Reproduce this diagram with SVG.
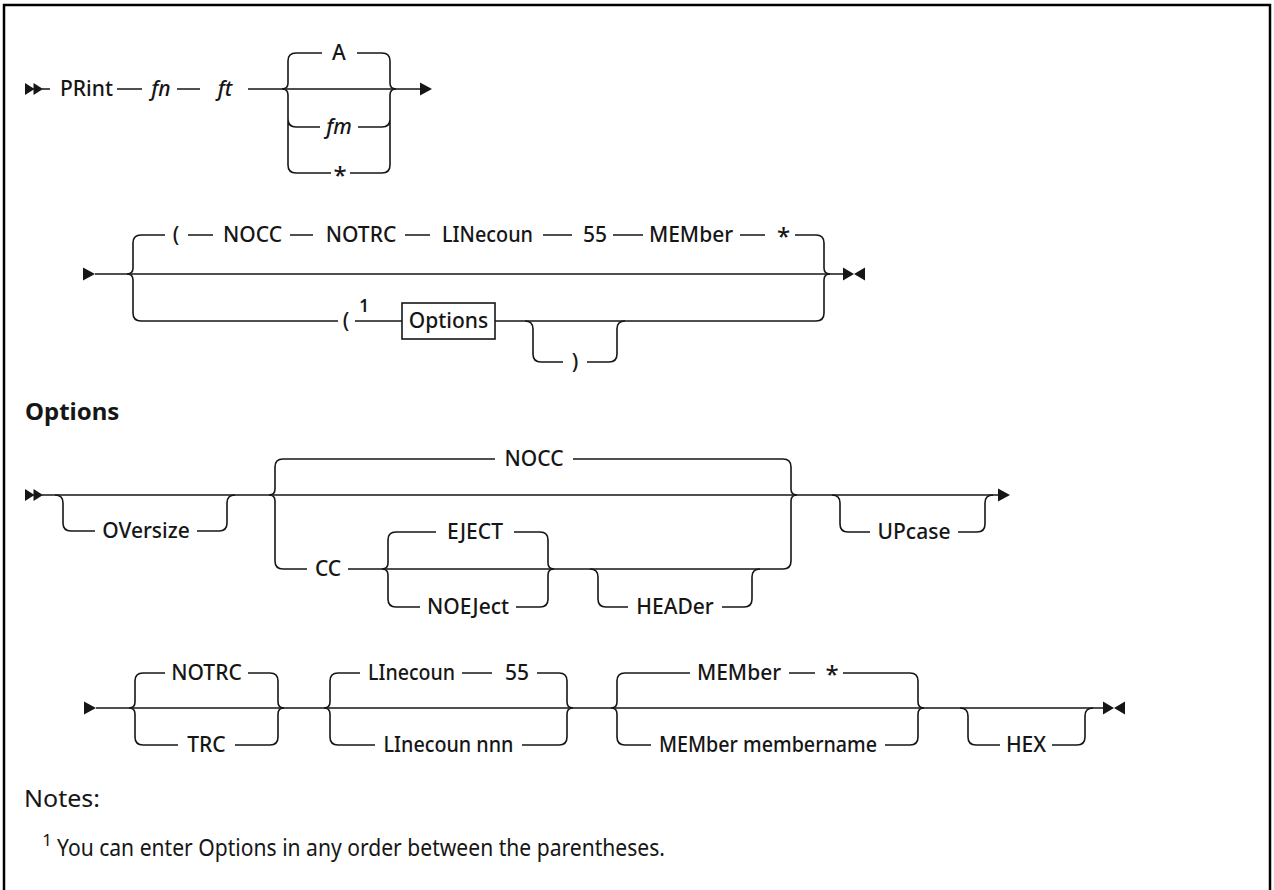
<svg xmlns="http://www.w3.org/2000/svg" xmlns:xlink="http://www.w3.org/1999/xlink" width="1274" height="890" viewBox="0 0 1274 890">
<style>
.t{font-family:"Noto Sans","Liberation Sans",sans-serif;font-size:21px;font-weight:500;fill:#161616;text-anchor:middle}
.i{font-style:italic}
.s{font-size:24px}
.h{font-family:"Noto Sans","Liberation Sans",sans-serif;font-size:24px;font-weight:700;fill:#161616}
.n{font-family:"Noto Sans","Liberation Sans",sans-serif;font-size:23px;font-weight:400;fill:#161616}
.sup{font-family:"Noto Sans","Liberation Sans",sans-serif;font-size:17px;font-weight:600;fill:#161616;text-anchor:middle}
.c{fill:none;stroke:#161616;stroke-width:1.6}
.m{fill:#161616}
</style>
<defs>
<path id="m2" class="m" d="M0,-6 L9.5,0 L0,6 Z M8.5,-6 L18,0 L8.5,6 Z"/>
<path id="ma" class="m" d="M0,-6.5 L12,0 L0,6.5 Z"/>
<path id="me" class="m" d="M0,-6.5 L11,0 L0,6.5 Z M22,-6.5 L11,0 L22,6.5 Z"/>
</defs>
<rect x="0" y="0" width="1274" height="890" fill="#fff"/>
<rect x="4" y="5" width="1266" height="900" fill="#fff" stroke="#000" stroke-width="2.5"/>

<g id="connectors">
<!-- row 1 -->
<use xlink:href="#m2" x="25" y="89"/>
<path class="c" d="M42 89H50M117 89H142M177 89H200M248 89H420"/>
<path class="c" d="M296 53Q288 53 288 61V83Q288 89 282 89M282 89Q288 89 288 95V165Q288 173 296 173M288 119Q288 127 296 127"/>
<path class="c" d="M382 53Q390 53 390 61V83Q390 89 396 89M396 89Q390 89 390 95V165Q390 173 382 173M390 119Q390 127 382 127"/>
<path class="c" d="M296 53H322M357 53H382M296 127H320M358 127H382M296 173H331M350 173H382"/>
<use xlink:href="#ma" x="420" y="89"/>
<!-- row 2 -->
<use xlink:href="#ma" x="83" y="274"/>
<path class="c" d="M95 274H843"/>
<path class="c" d="M141 235Q133 235 133 243V268Q133 274 127 274M127 274Q133 274 133 280V313Q133 321 141 321"/>
<path class="c" d="M816 235Q824 235 824 243V268Q824 274 830 274M830 274Q824 274 824 280V313Q824 321 816 321"/>
<path class="c" d="M141 235H165M188 235H213M290 235H313M405 235H430M543 235H572M613 235H643M740 235H765M795 235H816"/>
<path class="c" d="M141 321H338M355 321H402M495 321H816"/>
<path class="c" d="M525 321Q533 321 533 329V354Q533 362 541 362H563M587 362H609Q617 362 617 354V329Q617 321 625 321"/>
<use xlink:href="#me" x="843" y="274"/>
<!-- options row 1 -->
<use xlink:href="#m2" x="25" y="495"/>
<path class="c" d="M42 495H998"/>
<path class="c" d="M55 495Q63 495 63 503V523Q63 531 71 531H95M197 531H219Q227 531 227 523V503Q227 495 235 495"/>
<path class="c" d="M283 459Q275 459 275 467V489Q275 495 269 495M269 495Q275 495 275 501V561Q275 569 283 569"/>
<path class="c" d="M783 459Q791 459 791 467V489Q791 495 797 495M797 495Q791 495 791 501V561Q791 569 783 569"/>
<path class="c" d="M283 459H495M573 459H783M283 569H307M348 569H783"/>
<path class="c" d="M396 532Q388 532 388 540V563Q388 569 382 569M382 569Q388 569 388 575V599Q388 607 396 607"/>
<path class="c" d="M540 532Q548 532 548 540V563Q548 569 554 569M554 569Q548 569 548 575V599Q548 607 540 607"/>
<path class="c" d="M396 532H436M514 532H540M396 607H420M516 607H540"/>
<path class="c" d="M590 569Q598 569 598 577V599Q598 607 606 607H628M722 607H744Q752 607 752 599V577Q752 569 760 569"/>
<path class="c" d="M832 495Q840 495 840 503V524Q840 532 848 532H870M958 532H977Q985 532 985 524V503Q985 495 993 495"/>
<use xlink:href="#ma" x="998" y="495"/>
<!-- options row 2 -->
<use xlink:href="#ma" x="84" y="708"/>
<path class="c" d="M96 708H1103"/>
<path class="c" d="M143 673Q135 673 135 681V702Q135 708 129 708M129 708Q135 708 135 714V737Q135 745 143 745"/>
<path class="c" d="M270 673Q278 673 278 681V702Q278 708 284 708M284 708Q278 708 278 714V737Q278 745 270 745"/>
<path class="c" d="M143 673H165M248 673H270M143 745H178M235 745H270"/>
<path class="c" d="M338 673Q330 673 330 681V702Q330 708 324 708M324 708Q330 708 330 714V737Q330 745 338 745"/>
<path class="c" d="M559 673Q567 673 567 681V702Q567 708 573 708M573 708Q567 708 567 714V737Q567 745 559 745"/>
<path class="c" d="M338 673H360M462 673H492M537 673H559M338 745H375M522 745H559"/>
<path class="c" d="M625 673Q617 673 617 681V702Q617 708 611 708M611 708Q617 708 617 714V737Q617 745 625 745"/>
<path class="c" d="M910 673Q918 673 918 681V702Q918 708 924 708M924 708Q918 708 918 714V737Q918 745 910 745"/>
<path class="c" d="M625 673H690M789 673H815M843 673H910M625 745H651M885 745H910"/>
<path class="c" d="M960 708Q968 708 968 716V737Q968 745 976 745H1000M1052 745H1077Q1085 745 1085 737V716Q1085 708 1093 708"/>
<use xlink:href="#me" x="1103" y="708"/>
</g>

<g id="n-print"><text class="t" x="86.5" y="96">PRint</text></g>
<g id="n-fn"><text class="t i" x="161" y="96">fn</text></g>
<g id="n-ft"><text class="t i" x="225" y="96">ft</text></g>
<g id="n-a"><text class="t" x="339" y="60">A</text></g>
<g id="n-fm"><text class="t i" x="339" y="134">fm</text></g>
<g id="n-star1"><text class="t s" x="340" y="184">*</text></g>

<g id="n-lp1"><text class="t" x="176" y="242">(</text></g>
<g id="n-nocc1"><text class="t" x="252.5" y="242">NOCC</text></g>
<g id="n-notrc1"><text class="t" x="361" y="242">NOTRC</text></g>
<g id="n-linecoun1"><text class="t" x="487.5" y="242" textLength="91" lengthAdjust="spacingAndGlyphs">LINecoun</text></g>
<g id="n-551"><text class="t" x="595" y="242">55</text></g>
<g id="n-member1"><text class="t" x="691" y="242">MEMber</text></g>
<g id="n-star2"><text class="t s" x="783.5" y="245">*</text></g>
<g id="n-lp2"><text class="t" x="346" y="328">(</text><text class="sup" x="364" y="312">1</text></g>
<g id="n-options-ref"><rect x="402" y="303" width="93" height="36" fill="#fff" stroke="#161616" stroke-width="1.6"/><text class="t" x="448.5" y="328">Options</text></g>
<g id="n-rp"><text class="t" x="575" y="369">)</text></g>

<g id="n-options-title"><text class="h" x="25" y="420">Options</text></g>
<g id="n-oversize"><text class="t" x="146" y="538">OVersize</text></g>
<g id="n-nocc2"><text class="t" x="534" y="466">NOCC</text></g>
<g id="n-cc"><text class="t" x="328" y="576">CC</text></g>
<g id="n-eject"><text class="t" x="475" y="539">EJECT</text></g>
<g id="n-noeject"><text class="t" x="468" y="614">NOEJect</text></g>
<g id="n-header"><text class="t" x="675" y="614">HEADer</text></g>
<g id="n-upcase"><text class="t" x="914" y="539">UPcase</text></g>

<g id="n-notrc2"><text class="t" x="206.5" y="680">NOTRC</text></g>
<g id="n-trc"><text class="t" x="206.5" y="752">TRC</text></g>
<g id="n-linecoun2"><text class="t" x="411.5" y="680" textLength="87" lengthAdjust="spacingAndGlyphs">LInecoun</text></g>
<g id="n-552"><text class="t" x="517" y="680">55</text></g>
<g id="n-linecounnnn"><text class="t" x="448.5" y="752" textLength="130" lengthAdjust="spacingAndGlyphs">LInecoun nnn</text></g>
<g id="n-member2"><text class="t" x="739" y="680">MEMber</text></g>
<g id="n-star3"><text class="t s" x="832" y="683">*</text></g>
<g id="n-membername"><text class="t" x="768" y="752" textLength="218" lengthAdjust="spacingAndGlyphs">MEMber membername</text></g>
<g id="n-hex"><text class="t" x="1026" y="752">HEX</text></g>

<g id="notes">
<text class="n" x="24" y="807" textLength="76" lengthAdjust="spacingAndGlyphs">Notes:</text>
<text class="sup" x="47" y="846" style="font-weight:400;font-size:17px">1</text>
<text class="n" x="57" y="856" textLength="608" lengthAdjust="spacingAndGlyphs">You can enter Options in any order between the parentheses.</text>
</g>
</svg>
